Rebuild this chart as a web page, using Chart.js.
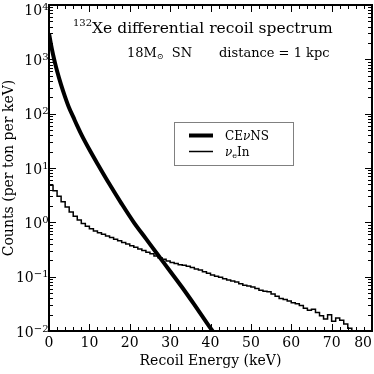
<!DOCTYPE html>
<html>
<head>
<meta charset="utf-8">
<script src="https://cdn.jsdelivr.net/npm/chart.js@4/dist/chart.umd.min.js"></script>
<style>
  html, body { margin: 0; padding: 0; background: #fff; }
  #wrap { width: 374px; height: 374px; }
</style>
</head>
<body>
<div id="wrap"><canvas id="spectrumChart" width="374" height="374"></canvas></div>
<script>
// 132Xe recoil spectrum

// CEvNS smooth curve (keV -> counts per ton per keV)
const cevnsEnergy = [0, 0.5, 1, 1.5, 2, 3, 4, 5, 6, 7, 8, 10, 12, 15, 18, 21, 24, 27, 30, 33, 36, 39, 40.5, 41.5];
const cevnsCounts = [3020, 1862, 1230, 851, 610, 339, 202, 127, 87.1, 59.6, 41.7, 21.9, 12.0, 5.01, 2.19, 1.0,
  0.501, 0.251, 0.126, 0.0631, 0.0305, 0.01445, 0.01, 0.0078];

// nu_e In histogram, 1 keV bins (lower edge -> counts)
const nueBinLow = [0, 1, 2, 3, 4, 5, 6, 7, 8, 9, 10, 11, 12, 13, 14, 15, 16, 17, 18, 19,
  20, 21, 22, 23, 24, 25, 26, 27, 28, 29, 30, 31, 32, 33, 34, 35, 36, 37, 38, 39,
  40, 41, 42, 43, 44, 45, 46, 47, 48, 49, 50, 51, 52, 53, 54, 55, 56, 57, 58, 59,
  60, 61, 62, 63, 64, 65, 66, 67, 68, 69, 70, 71, 72, 73, 74];
const nueCounts = [4.79, 3.80, 3.02, 2.40, 1.91, 1.55, 1.29, 1.10, 0.955, 0.851,
  0.759, 0.692, 0.646, 0.603, 0.562, 0.525, 0.490, 0.457, 0.427, 0.398,
  0.372, 0.347, 0.324, 0.302, 0.282, 0.263, 0.240, 0.224, 0.209, 0.195,
  0.182, 0.174, 0.166, 0.162, 0.155, 0.148, 0.138, 0.132, 0.123, 0.115,
  0.107, 0.102, 0.0977, 0.0912, 0.0871, 0.0832, 0.0794, 0.0741, 0.0692, 0.0676,
  0.0646, 0.0603, 0.0562, 0.0537, 0.0525, 0.0479, 0.0437, 0.0398, 0.0380, 0.0355,
  0.0331, 0.0316, 0.0295, 0.0263, 0.0240, 0.0251, 0.0219, 0.0191, 0.0166, 0.0200,
  0.0151, 0.0174, 0.0158, 0.0135, 0.0112];
const nueBinEnd = 75;

// axes
const xTickValues = [0, 10, 20, 30, 40, 50, 60, 70, 80];
const yTickValues = [1e-2, 1e-1, 1e0, 1e1, 1e2, 1e3, 1e4];
const yTickExponents = ['\u22122', '\u22121', '0', '1', '2', '3', '4'];

const SERIF = '"DejaVu Serif", "Liberation Serif", serif';

// draws a row of text pieces left to right, each with its own size / offset
function drawRuns(ctx, x, y, runs) {
  runs.forEach(r => {
    ctx.font = (r.italic ? 'italic ' : '') + r.size + 'px ' + SERIF;
    ctx.fillText(r.text, x + (r.dx || 0), y + (r.dy || 0));
    x += (r.dx || 0) + ctx.measureText(r.text).width;
  });
}

const framePlugin = {
  id: 'framePlugin',
  afterDatasetsDraw(chart) {
    const ctx = chart.ctx;
    const area = chart.chartArea;
    const x = chart.scales.x;
    const y = chart.scales.y;

    ctx.save();
    ctx.strokeStyle = '#000';
    ctx.fillStyle = '#000';

    // frame
    ctx.lineWidth = 2;
    ctx.strokeRect(area.left, area.top, area.right - area.left, area.bottom - area.top);

    // inward ticks on all four sides
    ctx.lineWidth = 1;
    const tick = (px, py, dx, dy) => {
      ctx.beginPath();
      ctx.moveTo(px, py);
      ctx.lineTo(px + dx, py + dy);
      ctx.stroke();
    };
    for (let v = 0; v <= 80; v += 2) {
      const px = Math.round(x.getPixelForValue(v)) + 0.5;
      const len = v % 10 === 0 ? 7 : 4;
      tick(px, area.bottom, 0, -len);
      tick(px, area.top, 0, len);
    }
    yTickValues.forEach((dec, i) => {
      for (let m = 1; m <= 9; m++) {
        if (i === yTickValues.length - 1 && m > 1) break;
        const py = Math.round(y.getPixelForValue(dec * m)) + 0.5;
        const len = m === 1 ? 7 : 4;
        tick(area.left, py, len, 0);
        tick(area.right, py, -len, 0);
      }
    });

    // x tick labels
    ctx.font = '14px ' + SERIF;
    ctx.textBaseline = 'alphabetic';
    ctx.textAlign = 'left';
    xTickValues.forEach(v => {
      const label = String(v);
      const w = ctx.measureText(label).width;
      let lx = x.getPixelForValue(v) - w / 2;
      lx = Math.min(lx, chart.width - 2 - w);
      ctx.fillText(label, lx, area.bottom + 15.5);
    });

    // y tick labels as 10^n
    yTickValues.forEach((v, i) => {
      const py = Math.max(y.getPixelForValue(v) + 0.5, area.top + 5);
      ctx.font = '10px ' + SERIF;
      const expW = ctx.measureText(yTickExponents[i]).width;
      ctx.font = '14px ' + SERIF;
      const baseW = ctx.measureText('10').width;
      const right = area.left - 0.5;
      ctx.fillText('10', right - expW - baseW, py + 5);
      ctx.font = '10px ' + SERIF;
      ctx.fillText(yTickExponents[i], right - expW, py);
    });

    // axis titles
    ctx.font = '14px ' + SERIF;
    ctx.textAlign = 'center';
    ctx.fillText('Recoil Energy (keV)', (area.left + area.right) / 2, 365);
    ctx.save();
    ctx.translate(13, (area.top + area.bottom) / 2);
    ctx.rotate(-Math.PI / 2);
    ctx.fillText('Counts (per ton per keV)', 0, 0);
    ctx.restore();

    // annotations
    ctx.textAlign = 'left';
    drawRuns(ctx, 73, 33, [
      { text: '132', size: 10, dy: -7 },
      { text: 'Xe differential recoil spectrum', size: 15.5 }
    ]);
    drawRuns(ctx, 127, 57, [
      { text: '18M', size: 13 },
      { text: '\u2299', size: 8, dy: 2 },
      { text: '  SN', size: 13 }
    ]);
    drawRuns(ctx, 219, 57, [{ text: 'distance = 1 kpc', size: 13 }]);

    // legend box
    ctx.strokeStyle = '#808080';
    ctx.lineWidth = 1;
    ctx.strokeRect(174.5, 122.5, 119, 43);
    const rows = [135.5, 151.5];
    chart.data.datasets.forEach((ds, i) => {
      ctx.strokeStyle = ds.borderColor;
      ctx.lineWidth = ds.borderWidth;
      ctx.beginPath();
      ctx.moveTo(189, rows[i]);
      ctx.lineTo(213, rows[i]);
      ctx.stroke();
    });
    drawRuns(ctx, 225, 139.5, [
      { text: 'CE', size: 12 },
      { text: '\u03bd', size: 12, italic: true },
      { text: 'NS', size: 12 }
    ]);
    drawRuns(ctx, 225, 155.5, [
      { text: '\u03bd', size: 12, italic: true },
      { text: 'e', size: 8, dy: 2 },
      { text: 'In', size: 12 }
    ]);

    ctx.restore();
  }
};

document.addEventListener('DOMContentLoaded', function() {
  const canvas = document.getElementById('spectrumChart');

  const cevnsPoints = cevnsEnergy.map((e, i) => ({ x: e, y: cevnsCounts[i] }));
  const nuePoints = nueBinLow.map((e, i) => ({ x: e, y: nueCounts[i] }));
  nuePoints.push({ x: nueBinEnd, y: 1e-3 }); // last bin drops off the axis

  new Chart(canvas, {
    type: 'line',
    data: {
      datasets: [{
        label: 'CEvNS',
        data: cevnsPoints,
        borderColor: '#000',
        borderWidth: 4,
        cubicInterpolationMode: 'monotone',
        pointRadius: 0,
        fill: false,
        clip: 0
      }, {
        label: 'nu_e In',
        data: nuePoints,
        borderColor: '#000',
        borderWidth: 1.5,
        stepped: 'before',
        pointRadius: 0,
        fill: false,
        clip: 0
      }]
    },
    options: {
      responsive: false,
      animation: false,
      layout: { padding: { left: 49, right: 2, top: 5, bottom: 43 } },
      plugins: {
        legend: { display: false },
        tooltip: { enabled: false }
      },
      scales: {
        x: { type: 'linear', min: 0, max: 80, display: false },
        y: { type: 'logarithmic', min: 0.01, max: 10000, display: false }
      }
    },
    plugins: [framePlugin]
  });
});
</script>
</body>
</html>
